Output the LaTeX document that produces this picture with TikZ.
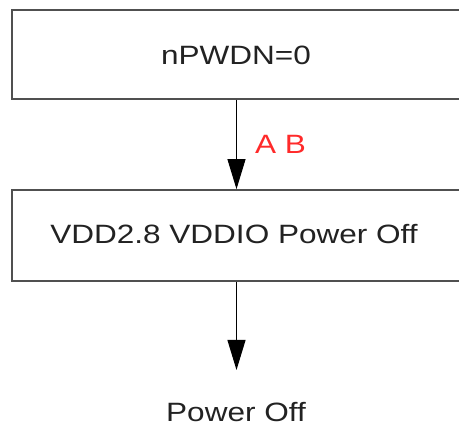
\documentclass[tikz,border=0pt]{standalone}
\usepackage{fontspec}
\setmainfont[FakeStretch=1.19]{Liberation Sans}
\usetikzlibrary{arrows.meta}
\definecolor{boxline}{HTML}{505050}
\definecolor{txt}{HTML}{222222}
\definecolor{lbl}{HTML}{FF2A2A}
\tikzset{
  stepbox/.style={draw=boxline, line width=1.7pt, minimum width=460pt, inner sep=0pt},
  flow/.style={draw=black, line width=1pt, -{Triangle[length=30pt,width=18pt]}},
  plain/.style={text=txt, inner sep=0pt, font=\fontsize{26.5}{30}\selectfont}
}
\begin{document}
\begin{tikzpicture}[x=1pt,y=-1pt]
\useasboundingbox (0,0) rectangle (459,430);
\clip (0,0) rectangle (459,430);
\node[stepbox, minimum height=89pt] (b1) at (242,54.5) {};
\node[stepbox, minimum height=91pt] (b2) at (242,235.5) {};
\node[plain] (t1) at (236,55.5) {nPWDN=0};
\node[plain] (t2) at (234,234) {VDD2.8 VDDIO Power Off};
\coordinate (e) at (236.5,370);
\node[plain, anchor=base] (t) at (236,422) {Power Off};
\draw[flow] (b1.south -| e) -- (b2.north -| e);
\draw[flow] (b2.south -| e) -- (e);
\node[plain, text=lbl, anchor=base west] (ab) at (255,154) {A B};
\end{tikzpicture}
\end{document}
